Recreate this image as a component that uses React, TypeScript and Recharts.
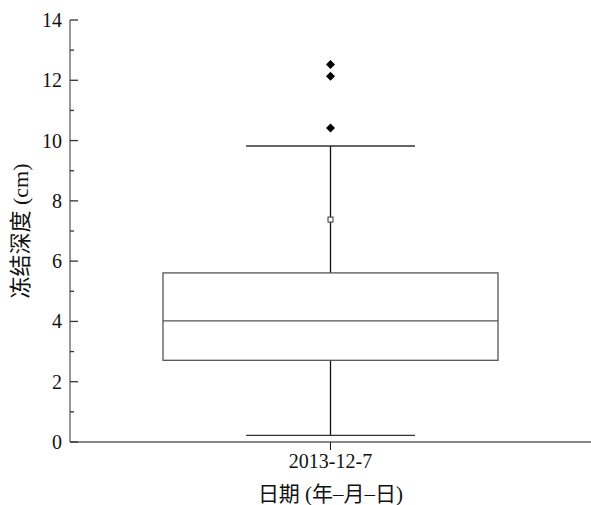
import React from "react";
import {
  ComposedChart,
  Bar,
  Scatter,
  XAxis,
  YAxis,
  Label,
} from "recharts";

// box plot stats for the single date
const categories = ["2013-12-7"];
const whiskerLow = [0.22];
const q1 = [2.71];
const median = [4.02];
const q3 = [5.61];
const whiskerHigh = [9.82];
const meanValues = [7.38];
const outlierValues = [10.42, 12.13, 12.52];
const yTicks = [0, 1, 2, 3, 4, 5, 6, 7, 8, 9, 10, 11, 12, 13, 14];

const FONT = "Liberation Serif, Times New Roman, Noto Sans CJK SC, serif";

const boxData = categories.map((name, i) => ({
  name,
  range: [whiskerLow[i], whiskerHigh[i]],
  low: whiskerLow[i],
  high: whiskerHigh[i],
  q1: q1[i],
  median: median[i],
  q3: q3[i],
}));

const outlierData = outlierValues.map((v) => ({ name: categories[0], value: v }));
const meanData = categories.map((name, i) => ({ name, value: meanValues[i] }));

// whole box drawn from the range bar: y/height come from the y scale
const BoxShape = (props: any) => {
  const { x, y, width, height, payload } = props;
  const { low, high } = payload;
  const py = (v: number) => y + (height * (high - v)) / (high - low);
  const cx = x + width / 2;
  const capHalf = width * 0.252;
  return (
    <g>
      <line x1={cx} x2={cx} y1={py(high)} y2={py(payload.q3)} stroke="#111" strokeWidth={1.3} />
      <line x1={cx} x2={cx} y1={py(payload.q1)} y2={py(low)} stroke="#111" strokeWidth={1.3} />
      <line x1={cx - capHalf} x2={cx + capHalf} y1={py(high)} y2={py(high)} stroke="#333" strokeWidth={1.3} />
      <line x1={cx - capHalf} x2={cx + capHalf} y1={py(low)} y2={py(low)} stroke="#333" strokeWidth={1.3} />
      <rect
        x={x}
        y={py(payload.q3)}
        width={width}
        height={py(payload.q1) - py(payload.q3)}
        fill="none"
        stroke="#555"
        strokeWidth={1.3}
      />
      <line x1={x} x2={x + width} y1={py(payload.median)} y2={py(payload.median)} stroke="#555" strokeWidth={1.3} />
    </g>
  );
};

const Diamond = (props: any) => {
  const { cx, cy } = props;
  const r = 4.5;
  return (
    <polygon
      points={`${cx},${cy - r} ${cx + r},${cy} ${cx},${cy + r} ${cx - r},${cy}`}
      fill="#000"
    />
  );
};

const OpenSquare = (props: any) => {
  const { cx, cy } = props;
  return <rect x={cx - 2.5} y={cy - 2.5} width={5} height={5} fill="#fff" stroke="#333" strokeWidth={1} />;
};

// inward ticks, minor ones unlabeled
const YTick = (props: any) => {
  const { x, y, payload } = props;
  const major = payload.value % 2 === 0;
  const ax = x + 8;
  return (
    <g>
      <line x1={ax} x2={ax + (major ? 8 : 4)} y1={y} y2={y} stroke="#333" strokeWidth={1.3} />
      {major && (
        <text x={ax - 8} y={y} dy={7} textAnchor="end" fontSize={20} fontFamily={FONT} fill="#111">
          {payload.value}
        </text>
      )}
    </g>
  );
};

const XTitle = (props: any) => {
  const { viewBox } = props;
  return (
    <text
      x={viewBox.x + viewBox.width / 2}
      y={viewBox.y + viewBox.height - 4}
      textAnchor="middle"
      fontSize={21}
      fontFamily={FONT}
      fill="#111"
    >
      日期 (年–月–日)
    </text>
  );
};

export default function App() {
  return (
    <div style={{ position: "absolute", left: 0, top: 0, width: 591, height: 505, background: "#fff", overflow: "visible" }}>
      <ComposedChart
        width={591}
        height={505}
        data={boxData}
        margin={{ top: 20, right: 0, left: 0, bottom: 0 }}
        style={{ overflow: "visible" }}
      >
        <XAxis
          dataKey="name"
          type="category"
          allowDuplicatedCategory={false}
          height={63}
          tickSize={8}
          tickMargin={4}
          stroke="#111"
          tick={{ fontSize: 20, fontFamily: FONT, fill: "#111" }}
        >
          <Label content={<XTitle />} />
        </XAxis>
        <YAxis
          type="number"
          domain={[0, 14]}
          ticks={yTicks}
          interval={0}
          width={70}
          tickLine={false}
          stroke="#333"
          tick={<YTick />}
        >
          <Label
            value="冻结深度 (cm)"
            angle={-90}
            position="insideLeft"
            offset={20}
            style={{ fontSize: 22, fontFamily: FONT, fill: "#111", textAnchor: "middle" }}
          />
        </YAxis>
        <Bar dataKey="range" barSize={335} shape={<BoxShape />} isAnimationActive={false} />
        <Scatter data={meanData} dataKey="value" shape={<OpenSquare />} isAnimationActive={false} />
        <Scatter data={outlierData} dataKey="value" shape={<Diamond />} isAnimationActive={false} />
      </ComposedChart>
    </div>
  );
}
